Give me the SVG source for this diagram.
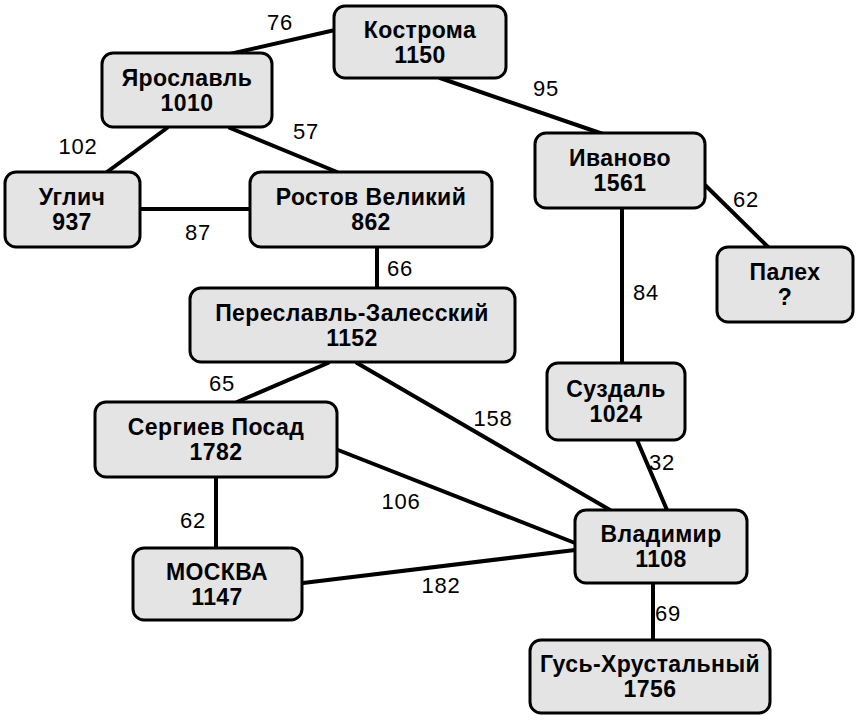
<svg xmlns="http://www.w3.org/2000/svg" width="858" height="720" viewBox="0 0 858 720">
<style>
.n rect{fill:#e4e4e4;stroke:#000;stroke-width:3}
.n text{font-family:"Liberation Sans",Arial,sans-serif;font-weight:bold;font-size:23px;letter-spacing:0.4px;text-anchor:middle;fill:#000}
.e line{stroke:#000;stroke-width:4;stroke-linecap:round}
.l text{font-family:"Liberation Sans",Arial,sans-serif;font-size:22px;letter-spacing:0.8px;text-anchor:middle;fill:#000}
</style>
<rect width="858" height="720" fill="#fff"/>
<g class="e" id="connectors">
<line x1="230" y1="54" x2="335" y2="30"/>
<line x1="440" y1="78" x2="603" y2="134"/>
<line x1="167" y1="128" x2="107" y2="172"/>
<line x1="230" y1="128" x2="337" y2="172"/>
<line x1="140" y1="209" x2="250" y2="209"/>
<line x1="377" y1="247" x2="377" y2="288"/>
<line x1="328" y1="363" x2="237" y2="402"/>
<line x1="357" y1="363" x2="610" y2="510"/>
<line x1="338" y1="450" x2="575" y2="543"/>
<line x1="303" y1="583" x2="575" y2="550"/>
<line x1="216" y1="477" x2="216" y2="548"/>
<line x1="622" y1="208" x2="622" y2="363"/>
<line x1="705" y1="185" x2="768" y2="247"/>
<line x1="637" y1="440" x2="667" y2="510"/>
<line x1="653" y1="583" x2="653" y2="640"/>
</g>
<g class="l" id="labels">
<text x="280" y="30">76</text>
<text x="546" y="96">95</text>
<text x="78" y="154">102</text>
<text x="306" y="139">57</text>
<text x="198" y="240">87</text>
<text x="400" y="276">66</text>
<text x="746" y="207">62</text>
<text x="646" y="300">84</text>
<text x="222" y="391">65</text>
<text x="493" y="426">158</text>
<text x="401" y="509">106</text>
<text x="193" y="528">62</text>
<text x="441" y="593">182</text>
<text x="662" y="470">32</text>
<text x="668" y="621">69</text>
</g>
<g class="n" id="kostroma"><rect x="334" y="6" width="172" height="72" rx="11"/><text x="420" y="38">Кострома</text><text x="420" y="63">1150</text></g>
<g class="n" id="yaroslavl"><rect x="102" y="53" width="170" height="74" rx="11"/><text x="187" y="86">Ярославль</text><text x="187" y="111">1010</text></g>
<g class="n" id="uglich"><rect x="5" y="172" width="135" height="75" rx="11"/><text x="72" y="205">Углич</text><text x="72" y="230">937</text></g>
<g class="n" id="rostov"><rect x="250" y="172" width="242" height="75" rx="11"/><text x="371" y="205">Ростов Великий</text><text x="371" y="230">862</text></g>
<g class="n" id="pereslavl"><rect x="190" y="288" width="325" height="74" rx="11"/><text x="352" y="321">Переславль-Залесский</text><text x="352" y="346">1152</text></g>
<g class="n" id="ivanovo"><rect x="535" y="133" width="170" height="75" rx="11"/><text x="620" y="166">Иваново</text><text x="620" y="191">1561</text></g>
<g class="n" id="palekh"><rect x="717" y="247" width="136" height="75" rx="11"/><text x="785" y="280">Палех</text><text x="785" y="305">?</text></g>
<g class="n" id="suzdal"><rect x="547" y="363" width="138" height="77" rx="11"/><text x="616" y="397">Суздаль</text><text x="616" y="422">1024</text></g>
<g class="n" id="sergiev"><rect x="95" y="402" width="242" height="75" rx="11"/><text x="216" y="435">Сергиев Посад</text><text x="216" y="460">1782</text></g>
<g class="n" id="moskva"><rect x="133" y="548" width="169" height="72" rx="11"/><text x="217" y="580">МОСКВА</text><text x="217" y="605">1147</text></g>
<g class="n" id="vladimir"><rect x="575" y="510" width="172" height="73" rx="11"/><text x="661" y="542">Владимир</text><text x="661" y="567">1108</text></g>
<g class="n" id="gus"><rect x="530" y="640" width="240" height="73" rx="11"/><text x="650" y="672">Гусь-Хрустальный</text><text x="650" y="697">1756</text></g>
</svg>
